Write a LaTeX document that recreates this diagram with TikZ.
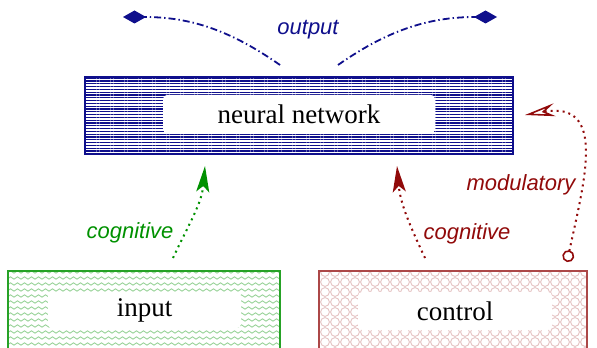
\documentclass[tikz,border=0pt]{standalone}
\usepackage{fontspec}
\setmainfont{Liberation Serif}
\setsansfont{Liberation Sans}
\usepackage{tikz}
\usetikzlibrary{arrows.meta,patterns,patterns.meta}
\usepackage{xcolor}

\definecolor{netblue}{RGB}{15,15,140}
\definecolor{cogngreen}{RGB}{0,145,0}
\definecolor{ctrlred}{RGB}{145,10,10}

% light fills of the two lower boxes
\pgfdeclarepatternformonly{zigzag}{\pgfpoint{-0.2pt}{-0.2pt}}{\pgfpoint{3.7pt}{3.2pt}}{\pgfpoint{3.5pt}{3pt}}{
  \pgfsetlinewidth{0.45pt}
  \pgfpathmoveto{\pgfpoint{0pt}{0.9pt}}
  \pgfpathlineto{\pgfpoint{1.75pt}{2.1pt}}
  \pgfpathlineto{\pgfpoint{3.5pt}{0.9pt}}
  \pgfusepath{stroke}}
\pgfdeclarepatternformonly{rings}{\pgfpoint{-0.2pt}{-0.2pt}}{\pgfpoint{5.2pt}{5.2pt}}{\pgfpoint{5pt}{5pt}}{
  \pgfsetlinewidth{0.45pt}
  \pgfpathcircle{\pgfpoint{2.5pt}{2.5pt}}{2.2pt}
  \pgfusepath{stroke}}

\tikzset{
  box/.style={draw, inner sep=0pt, line width=0.8pt},
  hole/.style={fill=white, rounded corners=2pt, inner sep=0pt, font=\fontsize{13.5}{16}\selectfont},
  lbl/.style={font=\fontsize{11}{13}\selectfont\sffamily\itshape},
  dots/.style={line width=1pt, dash pattern=on 1pt off 2pt},
  dashdots/.style={line width=0.9pt, dash pattern=on 3.5pt off 1.5pt on 0.7pt off 1.5pt}
}

\begin{document}
\begin{tikzpicture}[x=0.5pt,y=-0.5pt]
  \useasboundingbox (0,0) rectangle (597,347);
  % boxes
  \node[box, draw=netblue, pattern={Lines[angle=0,distance=1.4pt,line width=0.6pt]}, pattern color=netblue,
        minimum width=214pt, minimum height=38.5pt] (net) at (299,115.5) {};
  \node[hole, minimum width=136pt, minimum height=19pt] (netlbl) at (299,114) {neural network};
  \node[box, draw=cogngreen!85, pattern=zigzag, pattern color=cogngreen!40,
        minimum width=136pt, minimum height=39pt] (in) at (144,310) {};
  \node[hole, minimum width=96.5pt, minimum height=18pt] (inlbl) at (144.5,310) {input};
  \node[box, draw=ctrlred!75, pattern=rings, pattern color=ctrlred!25,
        minimum width=134pt, minimum height=39pt] (ctrl) at (453,310) {};
  \node[hole, minimum width=97pt, minimum height=19pt] (ctrllbl) at (455,311) {control};
  % ends of the connectors
  \coordinate (outLs) at (280,65);
  \coordinate (outLe) at (123,17);
  \coordinate (outRs) at (338,65);
  \coordinate (outRe) at (497,17);
  \coordinate (cogAs) at (173,258);
  \coordinate (cogAe) at (205,166);
  \coordinate (cogBs) at (425,258);
  \coordinate (cogBe) at (397,166);
  \coordinate (mods) at (567,262);
  \coordinate (mode) at (525,115);
  % output
  \draw[netblue, dashdots, -{Diamond[length=11.5pt,width=6.5pt]}] (outLs) to[out=145,in=0] (outLe);
  \draw[netblue, dashdots, -{Diamond[length=11.5pt,width=6.5pt]}] (outRs) to[out=35,in=180] (outRe);
  \node[lbl, text=netblue] (outlbl) at (308,30) {output};
  % cognitive
  \draw[cogngreen, dots, -{Stealth[length=13pt,width=6.5pt,inset=3pt]}] (cogAs) to[out=65,in=-95] (cogAe);
  \node[lbl, text=cogngreen] (cogA) at (130,233) {cognitive};
  \draw[ctrlred, dots, -{Stealth[length=13pt,width=6.5pt,inset=3pt]}] (cogBs) to[out=115,in=-85] (cogBe);
  \node[lbl, text=ctrlred] (cogB) at (467,234) {cognitive};
  % modulatory
  \draw[ctrlred, dots, {Circle[open,length=6pt,line width=0.8pt]}-{Stealth[open,length=15pt,width=6.5pt,inset=5pt,line width=0.8pt]}]
    (mods) to[out=78,in=10,looseness=1.4] (mode);
  \node[lbl, text=ctrlred] (mod) at (521,185) {modulatory};
\end{tikzpicture}
\end{document}
